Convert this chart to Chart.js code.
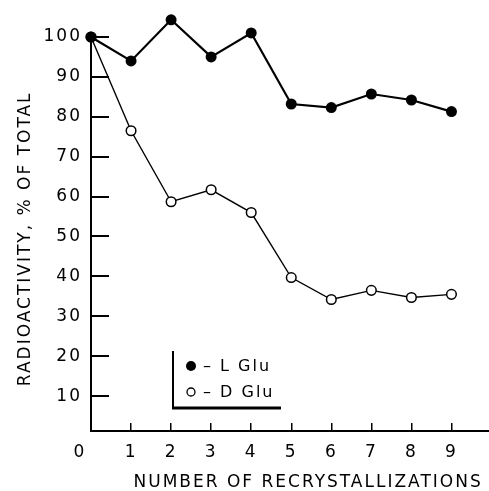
<!DOCTYPE html>
<html>
<head>
<meta charset="utf-8">
<script src="https://cdn.jsdelivr.net/npm/chart.js@4"></script>
<style>
  html, body { margin: 0; padding: 0; background: #fff; }
  #wrap { width: 489px; height: 491px; }
</style>
</head>
<body>
<div id="wrap"><canvas id="chartCanvas" width="489" height="491"></canvas></div>
<script>
// values
const recrystallizations = [0, 1, 2, 3, 4, 5, 6, 7, 8, 9];
const lGlu = [100, 94, 104.3, 95, 101, 83.2, 82.3, 85.7, 84.2, 81.3];
const dGlu = [100, 76.5, 58.7, 61.7, 56, 39.7, 34.2, 36.5, 34.7, 35.5];
const yTicks = [10, 20, 30, 40, 50, 60, 70, 80, 90, 100];
const xTicks = [0, 1, 2, 3, 4, 5, 6, 7, 8, 9];

const FONT = "'DejaVu Sans', sans-serif";

// wide lettering like the original drawing
const spacingPlugin = {
  id: "letterSpacing",
  beforeDraw(chart) {
    chart.ctx.letterSpacing = "2px";
  },
};

// y axis line only runs up to the 100 mark, the 104 point sticks out above it
// x axis line runs on to the edge of the figure
const axisLinePlugin = {
  id: "axisLine",
  beforeDatasetsDraw(chart) {
    const ctx = chart.ctx;
    const y = chart.scales.y;
    const x = chart.scales.x;
    ctx.save();
    ctx.strokeStyle = "#000";
    ctx.lineWidth = 2;
    ctx.beginPath();
    ctx.moveTo(x.left, y.getPixelForValue(101));
    ctx.lineTo(x.left, y.bottom);
    ctx.lineTo(chart.width, y.bottom);
    ctx.stroke();
    ctx.restore();
  },
};

// little bracketed key inside the plot, like the original figure
const keyPlugin = {
  id: "bracketKey",
  afterDatasetsDraw(chart) {
    const ctx = chart.ctx;
    ctx.save();
    ctx.strokeStyle = "#000";
    ctx.fillStyle = "#000";
    ctx.lineWidth = 2;
    ctx.beginPath();
    ctx.moveTo(173, 351);
    ctx.lineTo(173, 407);
    ctx.stroke();
    ctx.lineWidth = 3;
    ctx.beginPath();
    ctx.moveTo(172, 408);
    ctx.lineTo(281, 408);
    ctx.stroke();

    const rows = [
      { label: chart.data.datasets[0].label, y: 366, filled: true },
      { label: chart.data.datasets[1].label, y: 392, filled: false },
    ];
    ctx.font = "16px " + FONT;
    ctx.textBaseline = "middle";
    rows.forEach((r) => {
      ctx.beginPath();
      ctx.arc(191, r.y, r.filled ? 5 : 4, 0, Math.PI * 2);
      if (r.filled) ctx.fill();
      else {
        ctx.lineWidth = 1.3;
        ctx.stroke();
      }
      ctx.fillText("\u2013 " + r.label, 203, r.y + 1);
    });
    ctx.restore();
  },
};

const ctx = document.getElementById("chartCanvas").getContext("2d");
const chart = new Chart(ctx, {
  type: "line",
  data: {
    labels: recrystallizations,
    datasets: [
      {
        label: "L Glu",
        data: recrystallizations.map((x, i) => ({ x: x, y: lGlu[i] })),
        borderColor: "#000",
        backgroundColor: "#000",
        borderWidth: 2.2,
        pointRadius: 5.5,
        pointBorderWidth: 0,
        pointBackgroundColor: "#000",
        tension: 0,
        clip: false,
      },
      {
        label: "D Glu",
        data: recrystallizations.map((x, i) => ({ x: x, y: dGlu[i] })),
        borderColor: "#000",
        backgroundColor: "#fff",
        borderWidth: 1.4,
        pointRadius: 4.8,
        pointBorderWidth: 1.5,
        pointBackgroundColor: "#fff",
        pointBorderColor: "#000",
        tension: 0,
        clip: false,
      },
    ],
  },
  options: {
    responsive: false,
    animation: false,
    layout: { padding: { top: 17, right: 0, left: 0, bottom: 0 } },
    plugins: { legend: { display: false }, tooltip: { enabled: false } },
    scales: {
      x: {
        type: "linear",
        min: 0,
        max: 9.78,
        afterFit: (scale) => {
          scale.height = 60;
          scale.paddingLeft = 0;
          scale.paddingRight = 0;
        },
        afterBuildTicks: (scale) => { scale.ticks = xTicks.map((v) => ({ value: v })); },
        border: { display: false },
        grid: { drawOnChartArea: false, drawTicks: true, tickLength: -8, color: "#000", lineWidth: 1.5 },
        ticks: {
          color: "#000",
          font: { family: FONT, size: 17 },
          padding: 19,
          maxRotation: 0,
          // the 0 sits a little left of the corner in the original
          callback: (v) => (v === 0 ? "0   " : String(v)),
        },
        title: {
          display: true,
          text: "NUMBER OF RECRYSTALLIZATIONS",
          align: "end",
          color: "#000",
          font: { family: FONT, size: 17 },
          padding: { top: 0, bottom: -2 },
        },
      },
      y: {
        type: "linear",
        min: 1.25,
        max: 105,
        afterFit: (scale) => {
          scale.width = 91;
          scale.paddingTop = 0;
          scale.paddingBottom = 0;
        },
        afterBuildTicks: (scale) => { scale.ticks = yTicks.map((v) => ({ value: v })); },
        border: { display: false },
        grid: { drawOnChartArea: false, drawTicks: true, tickLength: -18, color: "#000", lineWidth: 2 },
        ticks: { color: "#000", font: { family: FONT, size: 17 }, padding: 27 },
        title: {
          display: true,
          text: "RADIOACTIVITY, % OF TOTAL    ",
          color: "#000",
          font: { family: FONT, size: 17 },
          padding: { top: 15, bottom: 0 },
        },
      },
    },
  },
  plugins: [spacingPlugin, axisLinePlugin, keyPlugin],
});
</script>
</body>
</html>
